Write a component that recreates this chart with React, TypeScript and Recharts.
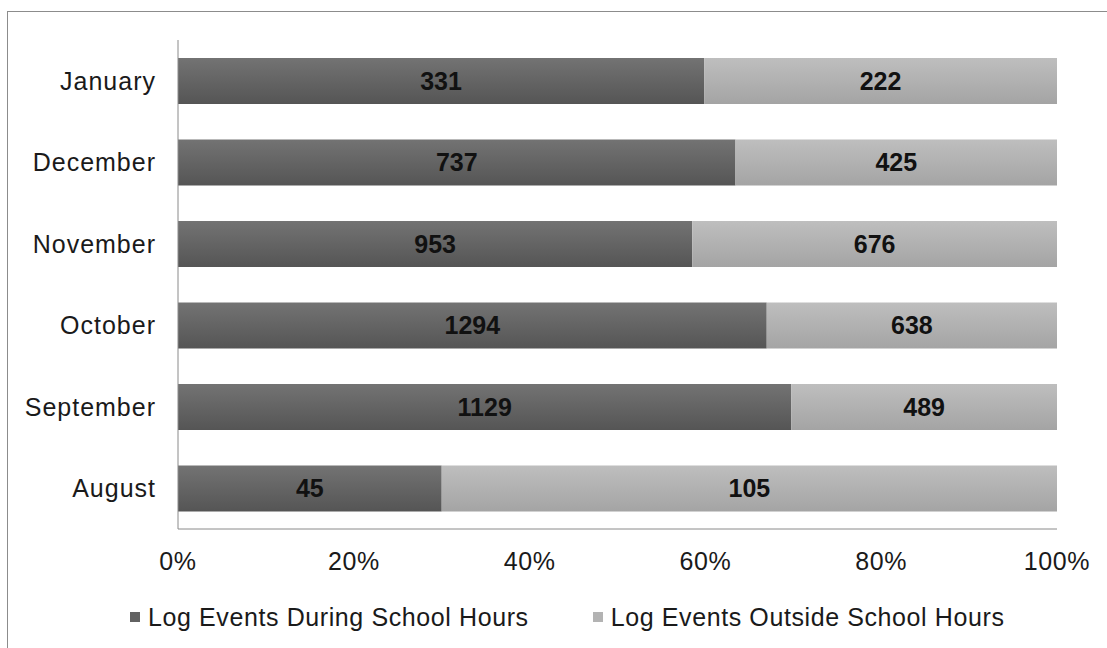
import { BarChart, Bar, XAxis, YAxis, Legend, LabelList } from "recharts";

const months = ["January", "December", "November", "October", "September", "August"];
const duringSchool = [331, 737, 953, 1294, 1129, 45];
const outsideSchool = [222, 425, 676, 638, 489, 105];
const percentTicks = [0, 0.2, 0.4, 0.6, 0.8, 1];

const seriesNames = {
  during: "Log Events During School Hours",
  outside: "Log Events Outside School Hours",
};

const data = months.map((month, i) => ({
  month,
  during: duringSchool[i],
  outside: outsideSchool[i],
}));

const FONT = '"Liberation Sans", Arial, sans-serif';
const TEXT = "#1a1a1a";
const AXIS = "#8a8a8a";

function LegendBox() {
  const items = [
    { name: seriesNames.during, color: "#626262" },
    { name: seriesNames.outside, color: "#b3b3b3" },
  ];
  return (
    <div
      style={{
        display: "flex",
        alignItems: "center",
        height: 30,
        paddingLeft: 130,
        gap: 64,
        fontFamily: FONT,
        fontSize: 25,
        letterSpacing: 0.6,
        color: TEXT,
      }}
    >
      {items.map((it) => (
        <div key={it.name} style={{ display: "flex", alignItems: "center", gap: 8 }}>
          <span style={{ width: 10, height: 10, background: it.color, display: "inline-block" }} />
          <span>{it.name}</span>
        </div>
      ))}
    </div>
  );
}

export default function App() {
  return (
    <div
      style={{
        position: "absolute",
        left: 0,
        top: 0,
        width: 1107,
        height: 648,
        overflow: "hidden",
        background: "#fff",
      }}
    >
      {/* chart frame: only the top and left edges fall inside the page */}
      <div
        style={{
          position: "absolute",
          left: 7,
          top: 11,
          right: 0,
          bottom: 0,
          borderTop: "1px solid #8c8c8c",
          borderLeft: "1px solid #8c8c8c",
        }}
      />
      <div style={{ position: "absolute", left: 0, top: 0 }}>
        <BarChart
          width={1107}
          height={648}
          data={data}
          layout="vertical"
          stackOffset="expand"
          margin={{ top: 40, right: 50, bottom: 16, left: 0 }}
        >
          <defs>
            <linearGradient id="duringFill" x1="0" y1="0" x2="0" y2="1">
              <stop offset="0%" stopColor="#737373" />
              <stop offset="100%" stopColor="#555555" />
            </linearGradient>
            <linearGradient id="outsideFill" x1="0" y1="0" x2="0" y2="1">
              <stop offset="0%" stopColor="#bebebe" />
              <stop offset="100%" stopColor="#a4a4a4" />
            </linearGradient>
          </defs>
          <XAxis
            type="number"
            domain={[0, 1]}
            ticks={percentTicks}
            tickFormatter={(v: number) => `${Math.round(v * 100)}%`}
            tickSize={0}
            tickMargin={23}
            height={73}
            axisLine={{ stroke: AXIS }}
            tick={{ fontSize: 25, fill: TEXT, fontFamily: FONT, letterSpacing: 0.6 }}
          />
          <YAxis
            type="category"
            dataKey="month"
            width={178}
            tickSize={0}
            tickMargin={22}
            axisLine={{ stroke: AXIS }}
            tick={{ fontSize: 25, fill: TEXT, fontFamily: FONT, letterSpacing: 1 }}
          />
          <Legend verticalAlign="bottom" align="left" content={() => <LegendBox />} />
          <Bar
            dataKey="during"
            stackId="a"
            name={seriesNames.during}
            fill="url(#duringFill)"
            barSize={46}
            isAnimationActive={false}
          >
            <LabelList
              dataKey="during"
              position="center"
              fill="#111"
              fontSize={25}
              fontWeight="bold"
              fontFamily={FONT}
            />
          </Bar>
          <Bar
            dataKey="outside"
            stackId="a"
            name={seriesNames.outside}
            fill="url(#outsideFill)"
            barSize={46}
            isAnimationActive={false}
          >
            <LabelList
              dataKey="outside"
              position="center"
              fill="#111"
              fontSize={25}
              fontWeight="bold"
              fontFamily={FONT}
            />
          </Bar>
        </BarChart>
      </div>
    </div>
  );
}
